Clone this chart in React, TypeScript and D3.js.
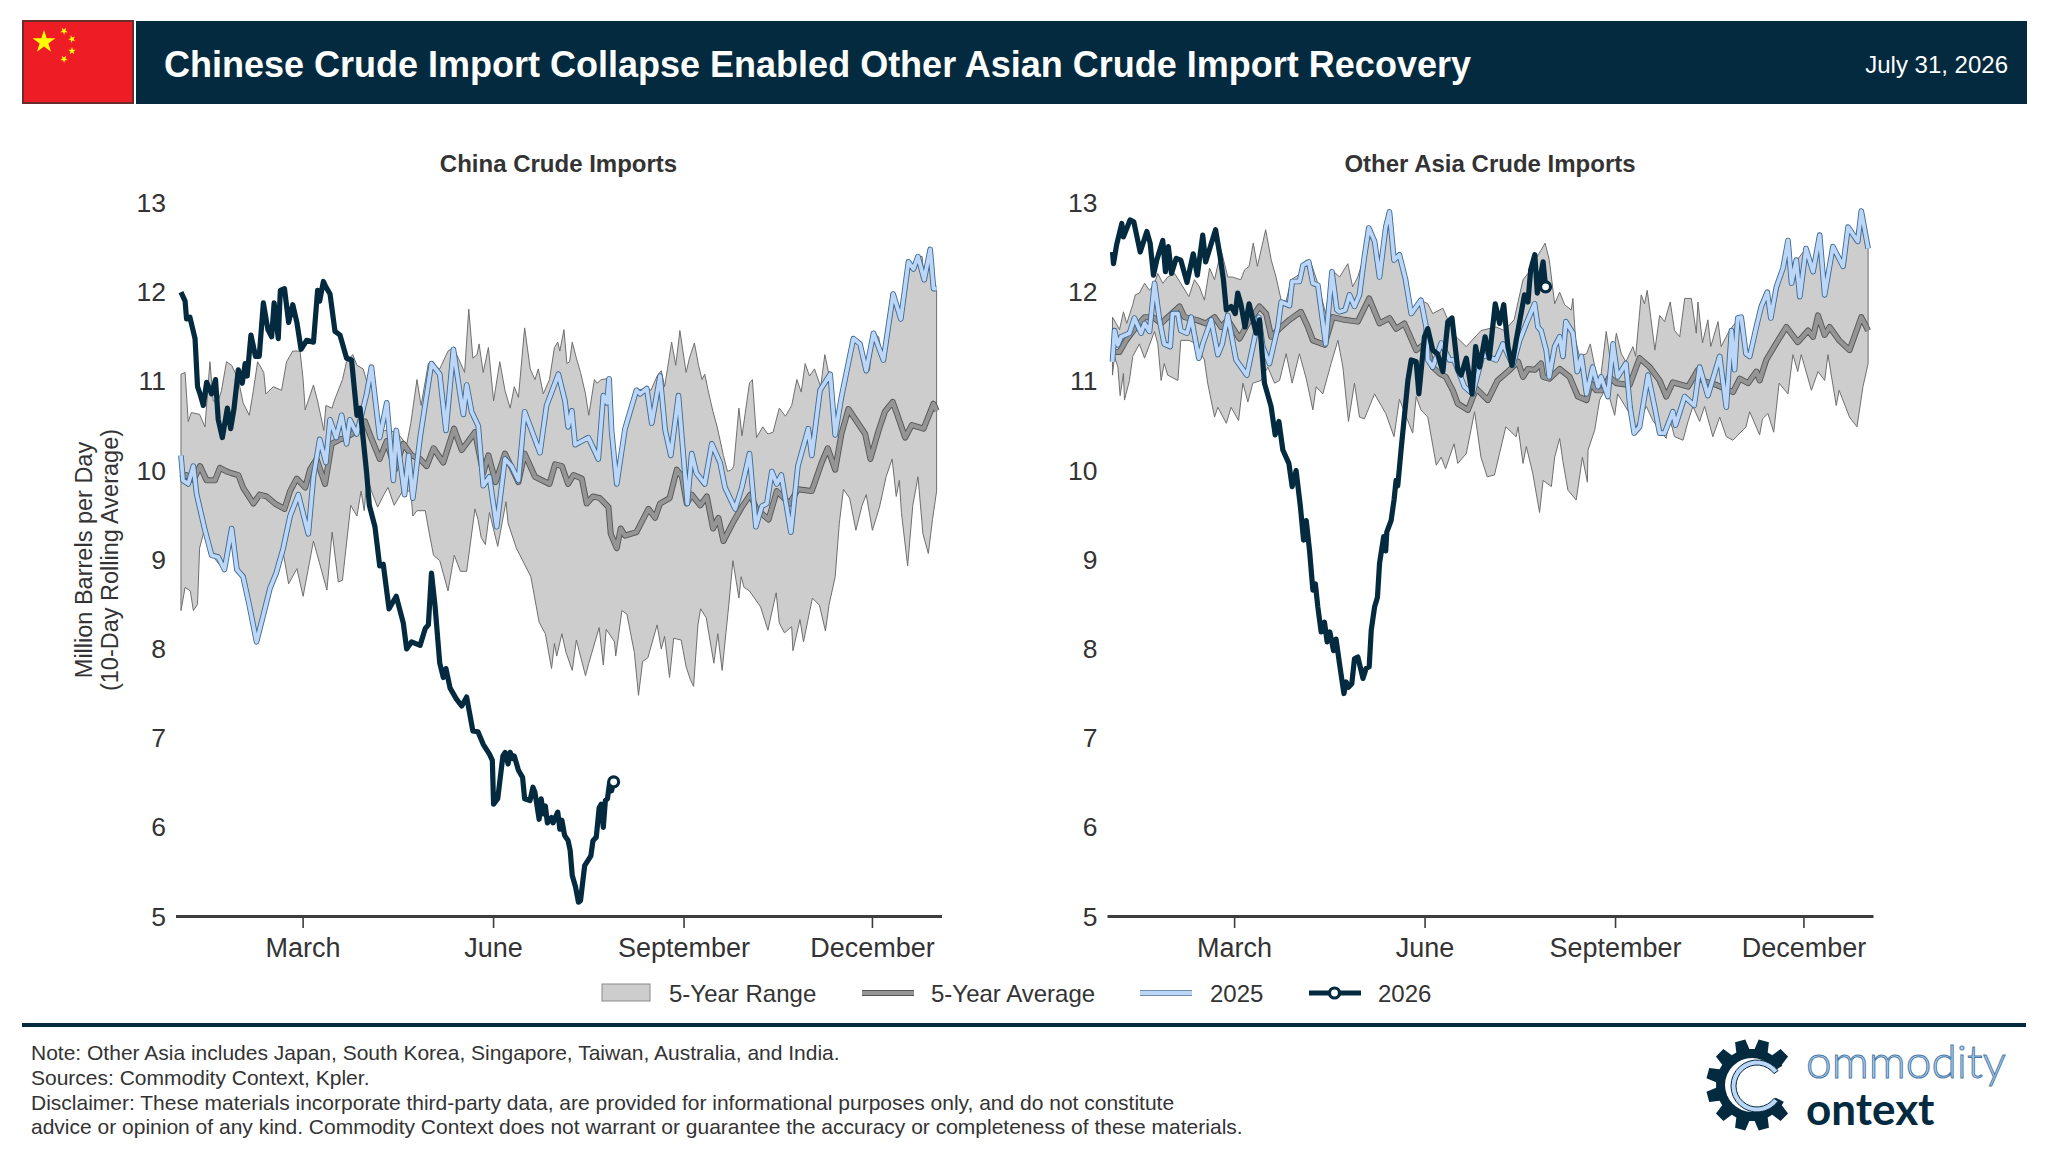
import React from "react";
import * as d3 from "d3";

type P = [number, number];

const monthTicks: [number, string][] = [[59, "March"], [151, "June"], [243, "September"], [334, "December"]];
const valueTicks = [5, 6, 7, 8, 9, 10, 11, 12, 13];

const chinaHigh: P[] = [[0,11.08],[2,11.1],[3.5,10.55],[5,10.65],[9,10.63],[11.6,10.49],[14,11.22],[15.6,10.78],[18,10.78],[19.6,10.9],[22,11.22],[24.5,11.18],[27.7,11.02],[30,10.76],[33,10.62],[35,10.9],[37,11.22],[40,11.1],[41,10.86],[44.6,10.94],[48.6,10.9],[51,11.22],[54,11.34],[57.5,11.34],[59,11.02],[60,10.68],[64,10.96],[66,10.78],[69,10.45],[70,10.73],[73,10.7],[74,10.78],[78,11.02],[80,11.22],[83,11.3],[85,11.18],[88,11.14],[91,10.9],[92,11.16],[96,10.45],[101,10.45],[105,10.41],[109,10.29],[111,10.53],[114,11.02],[116,10.73],[119.5,11.2],[125,11.14],[129,11.34],[131.5,11.38],[134,11.26],[137,11.1],[139,11.81],[141,11.26],[143,11.3],[144,11.42],[146,11.1],[148.5,11.38],[151,10.78],[154,11.22],[156.5,10.9],[159,10.7],[161,10.94],[163,10.82],[166,11.6],[168.7,11.14],[171,11.02],[172.6,11.14],[175,10.86],[178,11.02],[180.4,11.38],[182,11.44],[183,11.34],[185,11.58],[186.4,11.2],[187.7,11.22],[189,11.44],[191,11.26],[193,11.1],[195.4,10.86],[197,10.62],[199.7,11.02],[201,10.98],[203,11.02],[206,11.03],[208,10.62],[210,9.85],[212.6,10.25],[215,10.49],[217.5,10.73],[220,10.9],[225,10.92],[227,10.9],[230,11.06],[232,11.12],[233.6,10.94],[235,11.14],[237,11.44],[239,11.18],[241,11.57],[244,11.1],[245.6,11.26],[248,11.43],[250,11.18],[251.7,11.02],[253,11.08],[255,10.86],[257,10.66],[259,10.49],[262,10.17],[264,9.99],[266,10.01],[267,10.05],[269.5,10.7],[271,10.39],[274.6,10.98],[276,11.02],[278,10.37],[281,10.49],[283.5,10.41],[286,10.43],[289,10.7],[292,10.61],[295,10.73],[297.5,11.02],[299.6,10.88],[301.5,11.2],[303.6,11.06],[306,11.14],[309,10.94],[311,11.3],[313,11.08],[315,10.78],[316.5,10.53],[320,10.82],[324,11.48],[327,11.46],[330,11.14],[332.6,11.12],[334,11.54],[337,11.5],[339,11.24],[343,11.98],[347,11.7],[351,12.34],[353.5,12.26],[356,12.4],[358,12.4],[359,12.14],[361.6,12.48],[363,12.06],[365,12.02]];
const chinaLow: P[] = [[0,8.43],[2,8.69],[4.5,8.65],[6,8.43],[8,8.5],[9,9.13],[11,9.31],[12,9.33],[15,9.05],[20.5,8.89],[24.5,9.33],[27,8.89],[30,8.81],[33,8.49],[36.5,8.08],[40,8.4],[43,8.68],[46,8.85],[49,9.13],[52,8.73],[56,8.9],[59,8.59],[64,9.21],[70.5,8.66],[73,9.31],[76,8.75],[78,8.77],[82,9.61],[85,9.49],[87,9.77],[88.5,9.55],[90,9.93],[92,9.77],[95,9.59],[98,9.73],[100,9.81],[103,9.61],[107,9.77],[111,9.77],[112,9.49],[114,9.55],[118,9.55],[120,9.29],[122,9.05],[125,8.99],[129,8.65],[132,9.05],[135,8.87],[138,8.87],[142,9.57],[143.5,9.45],[145,9.25],[147,9.17],[149,9.53],[153,9.15],[157,9.65],[158,9.41],[162,9.13],[169,8.81],[173,8.3],[176,8.17],[179,7.78],[180.4,8.06],[181.5,7.92],[184,8.17],[186,7.96],[189,7.76],[191,8.1],[195.4,7.7],[197,7.84],[202,8.24],[204,7.82],[205.4,8.22],[209.4,8.08],[210,7.92],[213,8.43],[215.4,8.39],[219,7.96],[221,7.48],[223,7.86],[225.5,7.9],[230,8.27],[232,8],[233.6,8.14],[236,7.68],[238,8.12],[241.6,8.1],[244,7.8],[246,7.66],[247.6,7.58],[249.7,8.27],[251,8.45],[253.7,8.35],[257.4,7.84],[259.3,8.17],[261.4,7.76],[264.6,8.49],[266.6,8.99],[269.5,8.57],[270.6,8.81],[272,8.69],[274.6,8.65],[277,8.57],[280,8.47],[283.5,8.21],[287.5,8.63],[289,8.29],[291.5,8.18],[295,8.25],[295.6,7.98],[299,8.33],[300.7,8.08],[305,8.57],[308.4,8.49],[311.3,8.2],[313,8.49],[316,8.81],[318,9.41],[320,9.79],[323,9.69],[326,9.33],[329,9.61],[331,9.73],[334,9.33],[337.4,9.59],[340.6,9.93],[343.5,10.13],[345.5,9.71],[347,9.89],[348,9.53],[351,8.93],[353.5,9.61],[356,9.93],[358.4,9.29],[361,9.07],[363,9.45],[365,9.77]];
const chinaAvg: P[] = [[0,9.91],[2.7,9.95],[6,9.89],[9.2,10.05],[12.4,9.89],[16.4,9.89],[18.8,10.03],[22,9.99],[24.5,9.97],[27.7,9.95],[30,9.81],[35,9.63],[38,9.73],[41.4,9.71],[45.4,9.63],[50,9.57],[52.7,9.77],[55.9,9.91],[60,9.81],[62.3,10.01],[65.5,10.13],[69.6,9.85],[72.8,10.3],[76.8,10.35],[80,10.37],[84.9,10.45],[88.9,10.55],[91.3,10.4],[96,10.13],[99.4,10.33],[103.4,10.01],[107.4,10.3],[111.4,10.17],[115.5,10.13],[118.7,10.05],[122,10.25],[126.7,10.09],[131.9,10.47],[135.6,10.23],[142,10.43],[146,9.97],[148.5,10.17],[152,9.87],[156.5,10.19],[163,9.87],[166,10.19],[171,9.93],[178,9.85],[180.7,10.07],[184,10.05],[187,9.85],[189.6,9.95],[193.6,9.91],[196,9.63],[199,9.71],[202.4,9.69],[206.5,9.59],[207.6,9.29],[210.5,9.13],[212.4,9.35],[214.5,9.27],[220,9.31],[225.8,9.57],[229,9.47],[231.4,9.63],[236,9.69],[239.5,10.01],[242,9.93],[244.3,9.63],[246.7,9.73],[250.8,9.61],[254,9.71],[257,9.35],[259.6,9.47],[262,9.21],[266.9,9.43],[270.9,9.59],[275,9.73],[278,9.57],[283.8,9.45],[287.8,9.77],[294,9.63],[298,9.79],[304.7,9.77],[309.5,10.09],[312.4,10.25],[316,10.01],[319,10.41],[322.4,10.69],[330.5,10.41],[333,10.13],[337,10.45],[340,10.66],[343.8,10.77],[345.8,10.64],[349.8,10.37],[353,10.51],[358.7,10.47],[363.5,10.75],[365,10.67]];
const china2025: P[] = [[0,10.17],[1,9.89],[3.5,9.85],[6,10.05],[7.6,9.73],[9.2,9.57],[11.6,9.33],[14.8,9.05],[18,9.03],[21,8.89],[24.5,9.35],[27,8.89],[30,8.81],[33,8.49],[36.5,8.08],[40,8.4],[43,8.68],[46,8.85],[49.4,9.13],[52.7,9.49],[56.7,9.73],[61.5,9.29],[64,9.93],[67,10.35],[70,10.09],[72,10.57],[75,10.37],[77.6,10.62],[80,10.3],[81.6,10.57],[84.9,10.41],[89.7,10.86],[92,11.16],[96,10.37],[99.4,10.76],[102.6,9.89],[104,10.45],[108,9.73],[110,10.17],[112,9.69],[115.5,10.37],[121,11.2],[125,11.08],[128,10.45],[131.6,11.36],[134.8,10.86],[136.4,10.63],[138,10.96],[140.4,10.66],[143.6,10.5],[146,9.83],[149,9.93],[152.5,9.37],[156.5,10.13],[159.7,10.05],[163,9.89],[166,10.66],[169.4,10.45],[173.4,10.2],[176.6,10.73],[182.3,11.08],[185.5,10.78],[187,10.49],[188.8,10.67],[190.4,10.29],[193.6,10.33],[196.8,10.37],[201.6,10.13],[204,10.84],[205.7,10.76],[206.8,11.03],[208,10.45],[210.5,9.85],[214.5,10.47],[220,10.9],[221.8,10.86],[225,10.92],[227.4,10.53],[231.4,11.06],[233.9,10.45],[236.6,10.17],[240.3,10.84],[244.6,9.63],[246.7,10.19],[249,9.97],[253,9.85],[256.4,10.3],[260.4,10.09],[262.8,9.81],[267.7,9.57],[270.9,9.81],[274.6,10.19],[277.7,9.37],[280.6,9.6],[283,9.63],[285.4,9.99],[287.8,9.85],[290,9.95],[294.6,9.31],[298,10.05],[303,10.47],[304.7,10.17],[308.7,10.9],[313.6,11.08],[316,10.4],[319,10.82],[324.8,11.48],[328,11.42],[331,11.12],[334.5,11.54],[339.3,11.24],[344,11.98],[347.7,11.7],[351.4,12.34],[353.8,12.26],[356,12.4],[359,12.14],[361.9,12.48],[363.5,12.04],[365,12.04]];
const china2026: P[] = [[0,12],[2,11.9],[2.7,11.7],[4.3,11.72],[6.8,11.48],[8,10.94],[9.2,10.86],[10.8,10.73],[12.4,10.99],[14.8,10.86],[16.7,11.02],[18,10.57],[20,10.37],[22.4,10.7],[24,10.47],[25.6,10.69],[27.7,11.13],[29.6,10.98],[31,11.2],[32,11.06],[33.8,11.52],[36,11.28],[37.8,11.28],[39.8,11.88],[42,11.58],[43.8,11.5],[45,11.88],[47,11.48],[48,12.02],[50,12.04],[52,11.66],[54,11.86],[56,11.66],[58,11.36],[60.7,11.46],[64,11.44],[66,12.02],[67,11.9],[68.8,12.12],[70,12.06],[72,11.98],[74.4,11.56],[76.8,11.52],[80,11.26],[82.4,11.24],[85,10.62],[86.5,10.7],[89.7,9.97],[91,9.61],[93.7,9.37],[96,8.93],[97.7,8.95],[100.5,8.45],[104,8.59],[107.4,8.29],[109,8],[111.4,8.08],[115.5,8.04],[118,8.23],[119.5,8.27],[121,8.85],[122.7,8.49],[125,7.84],[126.7,7.68],[128,7.78],[130,7.56],[133,7.44],[135.6,7.36],[138,7.46],[141,7.08],[143.5,7.07],[146,6.93],[149,6.82],[150.4,6.75],[151,6.26],[153,6.32],[155.5,6.8],[156.6,6.84],[158,6.71],[159,6.84],[160.3,6.77],[161,6.8],[163,6.64],[165,6.56],[166,6.32],[168.6,6.3],[170,6.45],[171,6.39],[173,6.09],[174,6.32],[175,6.15],[176,6.24],[177,6.05],[179,6.11],[179.7,6.05],[182,6.17],[183,5.98],[184,6.08],[185.3,5.91],[187,5.85],[188,5.74],[189,5.46],[190.6,5.33],[192,5.16],[193,5.18],[195,5.57],[198,5.68],[199,5.85],[200.6,5.89],[202,6.22],[203,6.26],[204,6],[205,6.3],[206,6.32],[207,6.49],[208,6.41],[209,6.51]];

const asiaHigh: P[] = [[0,11.72],[1.8,11.65],[3.4,11.58],[5.3,11.78],[6.9,11.65],[9.8,11.86],[11,11.97],[13,11.99],[15.5,12.1],[17.9,12.02],[20.3,12.1],[21.9,12.21],[24.3,12.1],[26.7,12.17],[30,12.21],[33,12.1],[36.9,11.95],[39.6,12.14],[42,12.06],[44.4,11.91],[46.9,12.27],[49.3,12.14],[52.5,12.47],[55.7,12.17],[58,12.17],[60.5,12.15],[62,12.14],[63.8,12.25],[66,12.29],[68,12.55],[70,12.29],[74,12.7],[76.7,12.36],[79,12.17],[81.5,11.91],[83.9,11.9],[86.3,12.14],[90.3,12.2],[93.6,12.36],[96,12.32],[99.2,12.1],[103,11.76],[106,12.25],[109.7,12.17],[113.7,12.32],[116,12.06],[118.5,12.17],[121,12.36],[124,12.72],[127.4,12.58],[129,12.17],[133.8,12.9],[136,12.36],[138.6,12.42],[141.9,12.19],[145,11.76],[149,11.91],[152.3,11.87],[154.7,11.76],[159.6,11.82],[162,11.69],[166,11.5],[170.9,11.39],[178,11.57],[185.3,11.61],[189.4,11.57],[194,11.69],[198.3,12.14],[200.7,12.21],[204,12.36],[207,12.47],[209,12.55],[211,12.36],[213.6,11.87],[216,12],[218.4,11.86],[221.6,11.8],[222.4,11.93],[223.7,11.46],[225.6,11.28],[229,11.31],[230.8,11.42],[233,11.16],[235.3,10.94],[238.5,11.56],[241,11.16],[243.4,11.54],[245.8,11.31],[248,11.22],[251.4,11.39],[252.7,11.28],[255.4,11.97],[257,11.87],[258.3,12.02],[260,11.72],[262,11.35],[264.3,11.74],[266.7,11.67],[269.4,11.89],[271.5,11.57],[274,11.5],[276.4,11.93],[279.6,11.93],[282,11.54],[282.8,11.89],[285,11.43],[287.6,11.69],[289,11.39],[292.5,11.67],[294,11.39],[298,11.57],[303,11.72],[307,11.29],[311,11.65],[316.6,12.02],[319,11.75],[323.9,12.29],[326.3,12.58],[329.5,12.14],[330.6,12.36],[335,12.49],[338.4,12.23],[341.6,12.64],[344,11.97],[348,12.49],[352.9,12.29],[355.3,12.73],[358.5,12.57],[361.7,12.92],[365,12.51]];
const asiaLow: P[] = [[0,11.07],[1,11.28],[2.6,11.16],[3.7,10.84],[5.3,11.09],[5.8,10.79],[8.2,11.01],[9.8,11.28],[13,11.42],[15.5,11.26],[20.3,11.56],[21.9,11.42],[23.5,11.01],[25,11.2],[26.7,11.07],[31.6,11.01],[33,11.46],[37,11.46],[40.4,11.42],[44.4,11.24],[46,10.98],[49.3,10.6],[50.9,10.71],[55,10.53],[57.3,10.71],[60.9,10.56],[63,10.98],[65.4,10.77],[67.8,10.98],[71.8,11.01],[75,11.16],[78.3,10.98],[80.7,11.01],[83.9,11.31],[86.8,10.98],[90.3,11.31],[93.6,11.03],[96.8,10.68],[98.4,10.94],[101.6,10.86],[105.6,11.2],[108.9,11.46],[111.3,11.16],[114,10.55],[116.9,10.98],[119.3,10.6],[121.7,10.58],[126.6,10.86],[132,10.64],[136,10.38],[138.6,10.8],[145,10.42],[146.7,10.83],[149,10.68],[152.3,10.6],[156.4,10.06],[158.8,10.15],[160.9,10.02],[165,10.3],[166.8,10.08],[170.9,10.19],[174.9,10.66],[178,10.15],[181,9.93],[184.5,9.95],[190,10.49],[195,10.38],[195.9,10.49],[198.3,10.08],[199.9,10.27],[203,9.97],[206.3,9.53],[208,9.89],[212,9.82],[213.6,10.15],[216,10.36],[217.6,10.1],[220,9.78],[224,9.67],[227,10.15],[229.4,9.87],[229.7,10.23],[232.9,10.45],[235.3,10.79],[238.5,10.94],[242.6,10.62],[244,10.86],[249.8,10.64],[252,10.45],[257.9,10.72],[261,10.56],[267.5,10.36],[269,10.6],[271.5,10.38],[275.6,10.34],[278,10.55],[280.4,10.72],[283.6,10.55],[286,10.72],[290,10.38],[293.3,10.6],[296.5,10.38],[299.7,10.34],[306,10.49],[307.8,10.66],[312.6,10.4],[314,10.58],[316.6,10.64],[319.4,10.43],[322,10.98],[326.3,10.86],[328.7,11.3],[331,11.11],[332.7,11.3],[337.6,10.9],[340.8,11.11],[344,11.01],[345.6,11.3],[349.6,10.73],[351,10.9],[356,10.6],[359.6,10.49],[362.5,10.94],[365,11.2]];
const asiaAvg: P[] = [[0,11.33],[3.4,11.33],[6.6,11.46],[11.4,11.61],[15.5,11.72],[19.5,11.72],[23.5,11.65],[26.7,11.72],[32.4,11.84],[34.8,11.72],[40.4,11.69],[45,11.65],[49.3,11.72],[52.5,11.61],[55.7,11.69],[61.4,11.48],[65.4,11.65],[71,11.84],[74.2,11.76],[76.7,11.5],[81.5,11.61],[85.5,11.69],[91,11.78],[94.4,11.61],[96.8,11.46],[102.4,11.41],[106.4,11.72],[112,11.69],[118.5,11.67],[124,11.93],[129,11.65],[133.8,11.71],[137,11.59],[141,11.65],[146.7,11.35],[151.5,11.43],[154.7,11.16],[158,11.09],[161,11.05],[164.4,10.9],[166.8,10.75],[171.7,10.68],[175.7,10.92],[181.3,10.79],[186,11.01],[191,11.11],[195.9,11.22],[198.3,11.05],[200.7,11.14],[204,11.13],[207,11.2],[208,11.05],[211,11.03],[216,11.14],[220.8,11.05],[224.8,10.83],[229,10.79],[231,10.98],[233.7,10.9],[237,10.9],[240,11.05],[243.4,10.98],[249.8,10.96],[254.6,11.26],[259.5,11.16],[264.3,11.01],[267.5,10.83],[270.7,10.99],[278,10.94],[282.8,11.13],[285,11.01],[291.7,10.96],[299.7,10.88],[303,11.03],[307,10.98],[311,11.11],[312.6,11.01],[315.8,11.24],[320.7,11.43],[325.5,11.61],[331,11.44],[336,11.57],[338.4,11.5],[340.8,11.74],[344,11.52],[346.4,11.61],[351,11.46],[356,11.35],[361.7,11.72],[365,11.57]];
const asia2025: P[] = [[0,11.22],[1,11.57],[2.6,11.41],[4.2,11.5],[8.2,11.54],[10.6,11.71],[13.8,11.54],[15.5,11.65],[17.9,11.56],[20.3,12.1],[22.7,11.69],[25,11.42],[27.9,11.39],[29,11.76],[31.6,11.76],[33,11.57],[36,11.54],[38,11.72],[41.7,11.26],[43.6,11.42],[47.7,11.69],[50.9,11.3],[53,11.42],[55.7,11.74],[59.7,11.24],[64.9,11.07],[68.6,11.48],[70.7,11.72],[72.6,11.39],[75.8,11.2],[79.9,11.61],[81.5,11.89],[85.5,11.85],[86.8,12.12],[90.3,12.12],[92,12.3],[94.8,12.34],[96.8,12.1],[99.2,12.08],[103,11.42],[106,12.23],[108.4,11.8],[109.7,11.78],[112.4,11.8],[114.5,11.97],[116.9,11.84],[119.3,11.97],[121.7,12.4],[123.8,12.72],[126.6,12.57],[129,12.17],[132,12.73],[133.8,12.9],[136,12.36],[138.6,12.42],[141.5,12.15],[144.3,11.76],[149,11.91],[151.5,11.61],[152.3,11.24],[154.7,11.16],[158.8,11.43],[162.8,11.24],[165,11.24],[170,10.94],[174,10.86],[178.9,11.3],[185.3,11.24],[188.6,11.42],[193.4,11.18],[196.7,11.46],[199.9,11.65],[203.9,11.87],[205.5,11.61],[207,11.57],[209.5,11.35],[211,11.05],[213.6,11.39],[216,11.5],[217.6,11.28],[219,11.67],[222.4,11.54],[224.5,11.11],[226.5,11.28],[229,10.86],[232,11.16],[234.5,10.94],[236,11.05],[239.3,10.83],[241.8,11.42],[244,11.05],[248,11.2],[250,10.71],[252,10.42],[254.6,10.49],[258.7,11.07],[261.9,10.71],[264.3,10.42],[266.7,10.42],[270.7,10.66],[272,10.51],[276.4,10.83],[281,10.73],[283.6,11.16],[287.6,10.84],[293.3,11.28],[296.5,10.71],[299,11.57],[300.5,11.13],[302,11.71],[303.7,11.72],[306,11.31],[307.8,11.28],[311,11.61],[313.4,11.84],[316.3,12],[318,11.71],[320.7,12.06],[323.9,12.27],[326.3,12.58],[328,12.1],[330.3,12.36],[332,11.95],[335,12.49],[338.4,12.23],[341.6,12.64],[344,11.97],[348,12.51],[352.9,12.29],[355.3,12.73],[360,12.57],[361.7,12.91],[365,12.49]];
const asia2026: P[] = [[0,12.45],[0.5,12.32],[2,12.53],[4.5,12.77],[5.3,12.62],[8.5,12.81],[10.3,12.79],[13.4,12.45],[16.6,12.68],[18.2,12.55],[19.8,12.19],[21.4,12.36],[24.3,12.58],[25.6,12.23],[27,12.51],[28.5,12.21],[30.8,12.38],[33,12.36],[36,12.11],[39,12.43],[41,12.19],[43.6,12.64],[45,12.34],[49.8,12.7],[52,12.4],[53.6,12.14],[55,11.8],[57.3,11.84],[59.3,11.76],[60.5,11.99],[62,11.87],[64,11.61],[66,11.87],[69.4,11.54],[71,11.69],[73.4,10.98],[76.6,10.72],[78.6,10.4],[80.4,10.55],[82.3,10.23],[85.2,10.08],[86.8,9.82],[88.7,10],[90.8,9.59],[92.3,9.22],[93.6,9.44],[95.2,9.1],[96.8,8.66],[98,8.73],[99.2,8.47],[100.8,8.19],[102.4,8.3],[103.7,8.08],[105,8.19],[106.8,7.98],[108,8.11],[109.7,7.83],[111.8,7.5],[112.9,7.63],[114,7.57],[115.6,7.61],[116.9,7.89],[118.5,7.91],[121,7.67],[122.5,7.78],[124,7.8],[125,8.21],[126.6,8.47],[128,8.58],[129,8.96],[131,9.26],[132,9.1],[132.5,9.31],[134.6,9.44],[136,9.67],[137,9.89],[137.8,9.83],[139.4,10.23],[142.7,11.01],[144.3,11.24],[146.7,11.22],[148,10.86],[150.7,11.5],[152.3,11.59],[154.7,11.35],[157,11.31],[159.6,11.11],[162,11.67],[164,11.71],[166.8,11.13],[168.4,11.07],[170.9,11.26],[173.7,10.86],[175.4,11.39],[177.3,11.16],[180,11.5],[182,11.26],[184.9,11.87],[187,11.65],[189,11.86],[191,11.39],[193,11.18],[195,11.46],[199,11.97],[200.7,11.89],[202,12.25],[204,12.42],[205.2,11.99],[208,12.34],[209.2,12.06]];

const NAVY = "#032a3e";
const INK = "#333333";
const FONT = "'Liberation Sans', Arial, sans-serif";

function starPoints(cx: number, cy: number, R: number, rot: number): string {
  const pts: string[] = [];
  for (let i = 0; i < 10; i++) {
    const r = i % 2 === 0 ? R : R * 0.382;
    const a = -Math.PI / 2 + rot + (i * Math.PI) / 5;
    pts.push(`${cx + r * Math.cos(a)},${cy + r * Math.sin(a)}`);
  }
  return pts.join(" ");
}

function Panel(props: {
  title: string; left: number; high: P[]; low: P[]; avg: P[]; y2025: P[]; y2026: P[]; yLabel?: boolean;
}) {
  const { title, left, high, low, avg, y2025, y2026, yLabel } = props;
  const x = d3.scaleLinear().domain([-2.4, 367.6]).range([left, left + 766]);
  const y = d3.scaleLinear().domain([5, 13]).range([916.5, 203]);
  const line = d3.line<P>().x((d) => x(d[0])).y((d) => y(d[1]));
  const rangePath = (line(high) as string) + "L" + (line([...low].reverse()) as string).slice(1) + "Z";
  const last = y2026[y2026.length - 1];
  const cx = left + 383 - 0.5;
  return (
    <g>
      <text x={cx} y={172} textAnchor="middle" fontSize={24} fontWeight="bold" fill={INK}>{title}</text>
      {valueTicks.map((t) => (
        <text key={t} x={left - 10} y={y(t) + 9} textAnchor="end" fontSize={26.5} fill={INK}>{t}</text>
      ))}
      {yLabel && (
        <g transform={`translate(98,560) rotate(-90)`} fontSize={23.5} fill={INK} textAnchor="middle">
          <text y={-6}>Million Barrels per Day</text>
          <text y={20}>(10-Day Rolling Average)</text>
        </g>
      )}
      <path d={rangePath} fill="#cdcdcd" stroke="#6f6f6f" strokeWidth={1} strokeLinejoin="round" />
      <path d={line(avg) as string} fill="none" stroke="#555" strokeWidth={6} strokeLinejoin="round" />
      <path d={line(avg) as string} fill="none" stroke="#959595" strokeWidth={4.2} strokeLinejoin="round" />
      <path d={line(y2025) as string} fill="none" stroke="#3f6a90" strokeWidth={5.6} strokeLinejoin="round" />
      <path d={line(y2025) as string} fill="none" stroke="#bcd6f8" strokeWidth={3.8} strokeLinejoin="round" />
      <path d={line(y2026) as string} fill="none" stroke={NAVY} strokeWidth={5.2} strokeLinejoin="round" />
      <circle cx={x(last[0])} cy={y(last[1])} r={5} fill="#fff" stroke={NAVY} strokeWidth={3.2} />
      <line x1={left} x2={left + 766} y1={916.5} y2={916.5} stroke="#3d3d3d" strokeWidth={3} />
      {monthTicks.map(([d, label]) => (
        <g key={label}>
          <line x1={x(d)} x2={x(d)} y1={916.5} y2={928} stroke="#3d3d3d" strokeWidth={1.6} />
          <text x={x(d)} y={957} textAnchor="middle" fontSize={27} fill={INK}>{label}</text>
        </g>
      ))}
    </g>
  );
}

function Logo() {
  const cx = 1752, cy = 1085;
  const teeth = 12;
  const ring: [number, number][] = [];
  for (let i = 0; i < teeth; i++) {
    const step = (2 * Math.PI) / teeth;
    const a = i * step + step / 2;
    ring.push([a - step * 0.36, 36], [a - step * 0.22, 46], [a + step * 0.22, 46], [a + step * 0.36, 36]);
  }
  const gear = d3.lineRadial().curve(d3.curveLinearClosed)(ring) as string;
  const cArc = d3.arc()({ innerRadius: 21, outerRadius: 26, startAngle: Math.PI * 0.7, endAngle: Math.PI * 2.3 }) as string;
  return (
    <g>
      <path d={gear} transform={`translate(${cx},${cy})`} fill={NAVY} />
      <circle cx={cx} cy={cy} r={27} fill="#fff" />
      <polygon points={`${cx},${cy} ${cx + 60},${cy - 38} ${cx + 60},${cy + 32}`} fill="#fff" />
      <path d={cArc} transform={`translate(${cx + 5},${cy + 1})`} fill="#bcd6f8" stroke={NAVY} strokeWidth={1} />
      <text x={1806} y={1078} fontFamily="Lato, sans-serif" fontSize={46} fontWeight={300} fill="#bcd6f8" stroke="#4a7aa6" strokeWidth={1}>ommodity</text>
      <text x={1806} y={1125} fontFamily="Lato, sans-serif" fontSize={44} fontWeight={700} fill={NAVY}>ontext</text>
    </g>
  );
}

export default function App() {
  return (
    <svg
      width={2048}
      height={1169}
      viewBox="0 0 2048 1169"
      style={{ position: "absolute", left: 0, top: 0, display: "block", background: "#fff" }}
      fontFamily={FONT}
    >
      <rect x={23} y={21} width={110} height={82} fill="#ee1c25" stroke="#6b2c2e" strokeWidth={2} />
      <polygon points={starPoints(44, 42, 12, 0)} fill="#ffff00" />
      <polygon points={starPoints(64, 31, 4, 0.6)} fill="#ffff00" />
      <polygon points={starPoints(72, 39, 4, 0.9)} fill="#ffff00" />
      <polygon points={starPoints(72, 51, 4, 0)} fill="#ffff00" />
      <polygon points={starPoints(64, 59, 4, 0.6)} fill="#ffff00" />
      <rect x={136} y={21} width={1891} height={83} fill={NAVY} />
      <text x={164} y={77} fontSize={36} fontWeight="bold" fill="#fff">Chinese Crude Import Collapse Enabled Other Asian Crude Import Recovery</text>
      <text x={2008} y={73} textAnchor="end" fontSize={24} fill="#fff">July 31, 2026</text>

      <Panel title="China Crude Imports" left={176} high={chinaHigh} low={chinaLow} avg={chinaAvg} y2025={china2025} y2026={china2026} yLabel />
      <Panel title="Other Asia Crude Imports" left={1107.5} high={asiaHigh} low={asiaLow} avg={asiaAvg} y2025={asia2025} y2026={asia2026} />

      <g fontSize={24} fill={INK}>
        <rect x={602} y={984} width={48} height={17} fill="#cdcdcd" stroke="#8a8a8a" strokeWidth={1} />
        <text x={669} y={1002}>5-Year Range</text>
        <line x1={862} x2={914} y1={993} y2={993} stroke="#555" strokeWidth={6} />
        <line x1={862} x2={914} y1={993} y2={993} stroke="#959595" strokeWidth={4.2} />
        <text x={931} y={1002}>5-Year Average</text>
        <line x1={1140} x2={1192} y1={993} y2={993} stroke="#3f6a90" strokeWidth={5.6} />
        <line x1={1140} x2={1192} y1={993} y2={993} stroke="#bcd6f8" strokeWidth={3.8} />
        <text x={1210} y={1002}>2025</text>
        <line x1={1309} x2={1361} y1={993} y2={993} stroke={NAVY} strokeWidth={5.2} />
        <circle cx={1334.5} cy={993} r={5} fill="#fff" stroke={NAVY} strokeWidth={3.2} />
        <text x={1378} y={1002}>2026</text>
      </g>

      <rect x={22} y={1023} width={2004} height={4} fill={NAVY} />
      <g fontSize={21} fill={INK}>
        <text x={31} y={1060}>Note: Other Asia includes Japan, South Korea, Singapore, Taiwan, Australia, and India.</text>
        <text x={31} y={1085}>Sources: Commodity Context, Kpler.</text>
        <text x={31} y={1110}>Disclaimer: These materials incorporate third-party data, are provided for informational purposes only, and do not constitute</text>
        <text x={31} y={1134}>advice or opinion of any kind. Commodity Context does not warrant or guarantee the accuracy or completeness of these materials.</text>
      </g>
      <Logo />
    </svg>
  );
}
